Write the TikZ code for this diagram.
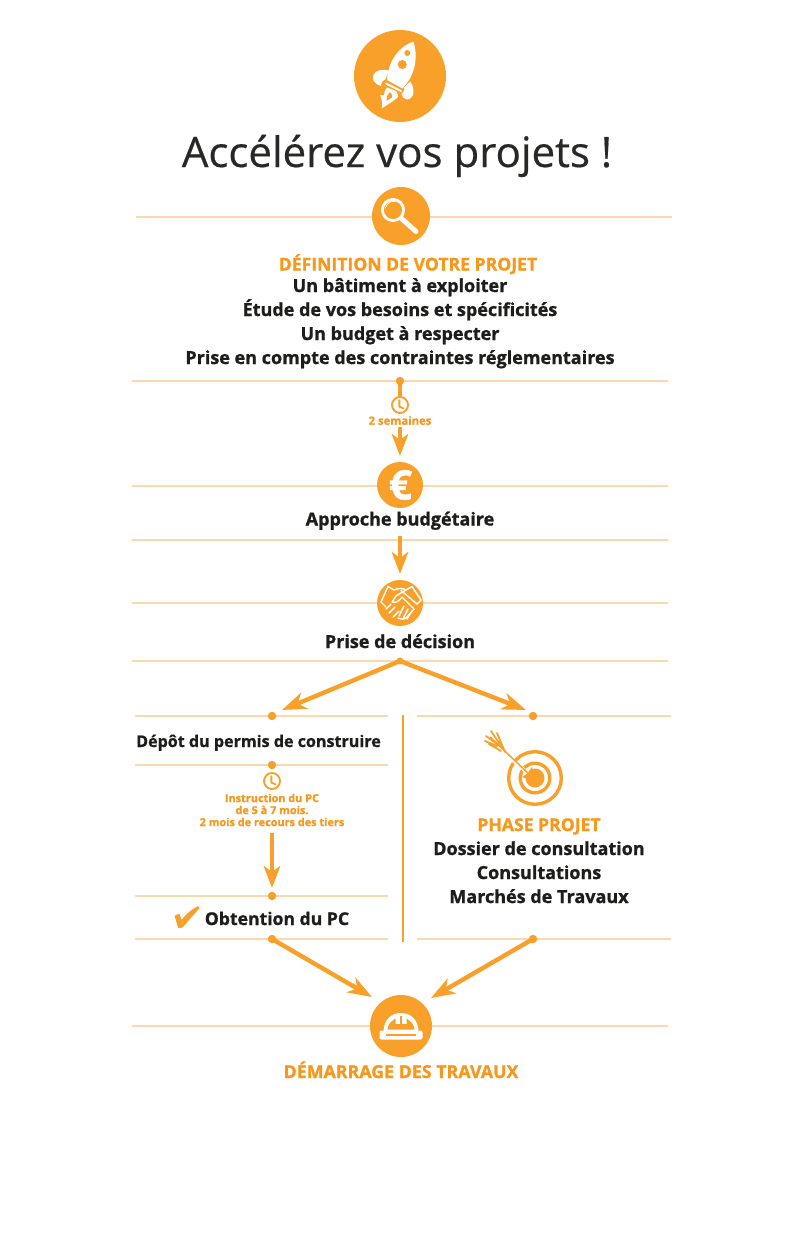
\documentclass[tikz,border=0pt]{standalone}
\usepackage{fontspec}
\setmainfont{Open Sans}[BoldFeatures={FakeBold=1}]
\newfontfamily\titlefont{Open Sans}[FakeBold=0.45]
\usetikzlibrary{arrows.meta}
\definecolor{org}{HTML}{F9A02B}
\definecolor{orgtxt}{HTML}{F7981D}
\definecolor{rule}{HTML}{FBD9AE}
\definecolor{ink}{HTML}{1D1D1B}
\tikzset{
  rulel/.style={draw=rule,line width=1.3pt},
  badge/.style={circle,fill=org,draw=none,inner sep=0pt},
  dotn/.style={circle,fill=org,draw=none,inner sep=0pt,minimum size=8.5pt},
  body/.style={text=ink,font=\bfseries\fontsize{18}{20}\selectfont,inner sep=0pt,anchor=base},
  head/.style={text=orgtxt,font=\bfseries\fontsize{17.6}{20}\selectfont,inner sep=0pt,anchor=base},
  small/.style={text=orgtxt,font=\bfseries\fontsize{10.9}{12}\selectfont,inner sep=0pt,align=center},
  arr/.style={draw=org,line width=4.8pt,-{Stealth[length=22pt,width=16.5pt,inset=6pt]}},
  arrd/.style={draw=org,line width=4.4pt,-{Stealth[length=24pt,width=17pt,inset=7pt]}},
  wline/.style={draw=white,line cap=round,line join=round},
  clockl/.style={draw=org,line width=1.9pt,line cap=round,line join=round},
}
\newcommand{\myclock}[2]{%
  \draw[clockl] (#1,#2) circle (8);
  \draw[clockl] (#1-.7,#2-4.8) -- (#1-.7,#2+1.5) -- (#1+3.3,#2+3.3);
}
\begin{document}
\begin{tikzpicture}[x=1pt,y=-1pt]
\useasboundingbox (0,0) rectangle (800,1245);
\fill[white] (0,0) rectangle (800,1245);
% horizontal rules
\draw[rulel] (136,217) -- (672,217);
\draw[rulel] (132,381) -- (668,381);
\draw[rulel] (132,486) -- (668,486);
\draw[rulel] (132,540) -- (668,540);
\draw[rulel] (132,603) -- (668,603);
\draw[rulel] (132,661) -- (668,661);
\draw[rulel] (135,716) -- (388,716);
\draw[rulel] (417,716) -- (671,716);
\draw[rulel] (135,765) -- (388,765);
\draw[rulel] (135,896) -- (388,896);
\draw[rulel] (135,939) -- (388,939);
\draw[rulel] (417,939) -- (671,939);
\draw[rulel] (132,1026) -- (668,1026);
\draw[draw=org,line width=1.2pt] (403,715) -- (403,942);

% badges
\node[badge,minimum size=92pt] (rocket) at (400,76) {};
\node[badge,minimum size=58pt] (search) at (401,216) {};
\node[badge,minimum size=46pt] (euro) at (400,485) {};
\node[badge,minimum size=46pt] (hands) at (400,603) {};
\node[badge,minimum size=62pt] (helmet) at (401,1026) {};

% rocket
\fill[white] (387,80) .. controls (388,62) and (398,47) .. (413.5,41.5) .. controls (418,57) and (416,74) .. (402.5,88.5) -- cycle;
\fill[org] (407.3,53) circle (3);
\fill[org] (402.3,64.5) circle (4.5);
\fill[white] (389,70.5) .. controls (380,68) and (372,72) .. (373,79) .. controls (374,83) and (378,85) .. (381,86) .. controls (381,82) and (383,80) .. (385.5,79) -- cycle;
\fill[white] (410,81.5) .. controls (415,87) and (415,99) .. (407,99.5) .. controls (404,99) and (402,97) .. (401.5,94) .. controls (404,92) and (405,90) .. (404,87.5) -- cycle;
\draw[wline,line width=1.8pt] (386,83.5) -- (401,91);
\fill[white] (381.7,108.5) .. controls (383,104) and (382,100) .. (380,95) .. controls (382,95) and (383,95) .. (384,95) .. controls (384,92) and (385,90) .. (387,87.5) -- (396,91) .. controls (398,94) and (398,96) .. (398,97) .. controls (394,101) and (390,103) .. (381.7,108.5) -- cycle;
\fill[org] (386.5,101) .. controls (386,97) and (388,94) .. (390,92) .. controls (391,94) and (393,95) .. (392,97.5) -- cycle;

% magnifier
\draw[wline,line width=2.8pt] (393,210) circle (10.6);
\draw[wline,line width=.7pt] (385.5,208) arc (190:290:8);
\draw[wline,line width=5pt] (401.5,218.5) -- (416,231.5);

% euro
\node[text=white,font=\bfseries\fontsize{41}{41}\selectfont,inner sep=0pt] (eurosign) at (400.5,485) {€};

% handshake
\begin{scope}[wline,line width=1.4pt]
\draw (381,602) -- (388,586.5) -- (394,590) .. controls (399,588) and (403,588) .. (406,590) -- (412,586.5) -- (421,600) -- (417,604) -- (401,590.5);
\draw (406,590) -- (396,596) -- (392,602) .. controls (396,604) and (400,600) .. (402,597) -- (414,609) ;
\draw (381,602) -- (386,607);
\draw (386,609) -- (391,604) (389,613) -- (395,607) (393,617) -- (399,611);
\draw (398,618) .. controls (401,619) and (403,620) .. (406,618) -- (414,609);
\draw (404,606) -- (399,616) (408,609) -- (403,619) (412,611) -- (407,619);
\end{scope}

% helmet
\fill[white] (383.5,1031) .. controls (384,1020) and (391,1013) .. (401,1013) .. controls (411,1013) and (418,1020) .. (418.5,1031) -- cycle;
\fill[org] (387.5,1029.5) .. controls (388,1025) and (390,1022) .. (395.5,1018.5) -- (395.5,1024) -- (406.5,1024) -- (406.5,1018.5) .. controls (412,1022) and (414,1025) .. (414.5,1029.5) -- cycle;
\fill[org] (399.7,1015.5) rectangle (402.3,1024);
\fill[white,rounded corners=2pt] (379.5,1030.5) rectangle (422.5,1039.5);
\fill[org] (386,1033.7) rectangle (416,1036);

% title
\node[text=ink!95,font=\titlefont\fontsize{42}{50}\selectfont,inner sep=0pt,anchor=base] (title) at (397,167) {Accélérez vos projets !};

% block 1
\node[head] (h1) at (408,270.5) {DÉFINITION DE VOTRE PROJET};
\node[body] (b1) at (400,292) {Un bâtiment à exploiter};
\node[body] (b2) at (400,316) {Étude de vos besoins et spécificités};
\node[body] (b3) at (400,340) {Un budget à respecter};
\node[body] (b4) at (400,364) {Prise en compte des contraintes réglementaires};

% 2 semaines
\node[dotn] (d1) at (400,381) {};
\coordinate (c1) at (400,396.5);
\draw[draw=org,line width=4.6pt] (d1.center) -- (c1);
\myclock{400}{405}
\node[small,font=\bfseries\fontsize{11.3}{12}\selectfont] (t1) at (400,420.5) {2 semaines};
\coordinate (a1) at (400,427);
\coordinate (a1e) at (400,456);
\draw[arr] (a1) -- (a1e);

% budget
\node[body] (b5) at (400,525.5) {Approche budgétaire};
\coordinate (a2) at (400,536);
\coordinate (a2e) at (400,574);
\draw[arr] (a2) -- (a2e);
\node[body] (b6) at (400,648) {Prise de décision};

% fork
\node[dotn,minimum size=7pt] (d2) at (400,661) {};
\node[dotn] (dl) at (272,716) {};
\node[dotn] (dr) at (533,716) {};
\coordinate (fl) at (282,710);
\coordinate (fr) at (526,710);
\draw[arrd] (d2.center) -- (fl);
\draw[arrd] (d2.center) -- (fr);

% left column
\node[body,font=\bfseries\fontsize{16.1}{20}\selectfont] (b7) at (258.5,747) {Dépôt du permis de construire};
\node[dotn] (d3) at (272,765) {};
\myclock{272}{781}
\node[small] (t2) at (272,810) {Instruction du PC\\de 5 à 7 mois.\\2 mois de recours des tiers};
\coordinate (a3) at (272,833);
\node[dotn] (d4) at (272,896) {};
\coordinate (a3e) at (272,888);
\draw[arr] (a3) -- (a3e);
\fill[org] (174.5,916) .. controls (176,914.5) and (178,914) .. (179.5,914) -- (181.5,920) .. controls (186,914) and (192,909) .. (198,906) -- (199.5,908) .. controls (193,916) and (187,922) .. (183,927) .. controls (181,928.5) and (179,928.5) .. (178,927.5) .. controls (177,924) and (176,920) .. (174.5,916) -- cycle;
\node[body,font=\bfseries\fontsize{17.6}{20}\selectfont] (b8) at (277,925) {Obtention du PC};

% right column: target
\draw[draw=org,line width=3.4pt] (535,778) circle (26.3);
\draw[draw=org,line width=3.4pt] (535,778) circle (14.8);
\fill[org] (535,778) circle (9.5);
\draw[draw=white,line width=3.5pt] (509,757) -- (529,774);
\draw[draw=org,line width=1.5pt] (490,737) -- (530,775);
\fill[org] (537,782) -- (522,777) -- (528,773) -- (532,767) -- cycle;
\draw[draw=org,line width=1.8pt,line cap=round] (486,736) -- (500,746) (491,731) -- (503,749) (485,741) -- (497,746) (497,733) -- (505,752) (489,744) -- (501,751);

\node[head] (h2) at (539,831) {PHASE PROJET};
\node[body] (b9) at (539,855) {Dossier de consultation};
\node[body] (b10) at (539,879) {Consultations};
\node[body] (b11) at (539,903) {Marchés de Travaux};

% bottom arrows
\node[dotn] (d5) at (272,939) {};
\node[dotn] (d6) at (533,939) {};
\coordinate (tl) at (372,997);
\coordinate (tr) at (431,998);
\draw[arrd] (d5.center) -- (tl);
\draw[arrd] (d6.center) -- (tr);
\node[head,font=\bfseries\fontsize{17.8}{20}\selectfont] (h3) at (401,1078) {DÉMARRAGE DES TRAVAUX};
\end{tikzpicture}
\end{document}
